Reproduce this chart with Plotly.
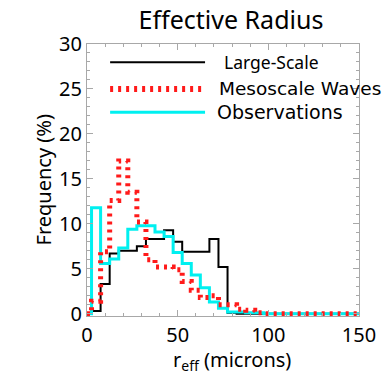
import plotly.graph_objects as go

# Histogram bin centres (microns) and frequencies (%) per bin
r_eff = list(range(0, 155, 5))

large_scale = [0.0, 0.3, 3.3, 6.7, 7.0, 7.0, 7.5, 8.3, 8.3, 9.3, 8.0, 6.9, 6.9, 6.9,
               8.3, 5.2, 0.1] + [0.0] * 14
mesoscale = [0.0, 1.4, 6.9, 12.6, 17.0, 13.5, 10.2, 6.0, 5.2, 5.2, 4.9, 3.6, 2.6, 1.8,
             2.0, 1.0, 1.0, 0.5, 0.4, 0.1] + [0.0] * 11
observations = [0.0, 11.8, 5.6, 6.1, 7.3, 9.4, 9.8, 9.8, 9.1, 8.6, 6.8, 5.6, 4.3, 2.9,
                1.3, 0.6, 0.2, 0.2, 0.1, 0.1] + [0.0] * 11

names = ["Large-Scale", "Mesoscale Waves", "Observations"]
colors = ["black", "#ff1a1a", "#00f0f0"]

x_ticks = [0, 50, 100, 150]
y_ticks = [0, 5, 10, 15, 20, 25, 30]

fig = go.Figure()
fig.add_trace(go.Scatter(x=r_eff, y=large_scale, mode="lines", line_shape="hvh",
                         line=dict(color=colors[0], width=2), name=names[0]))
fig.add_trace(go.Scatter(x=r_eff, y=observations, mode="lines", line_shape="hvh",
                         line=dict(color=colors[2], width=3), name=names[2]))
fig.add_trace(go.Scatter(x=r_eff, y=mesoscale, mode="lines", line_shape="hvh",
                         line=dict(color=colors[1], width=5, dash="3px,5px"), name=names[1]))

# Hand-drawn key in the upper part of the panel
key_rows = [(0.933, colors[0], 2, "solid", names[0], "Noto Sans", 17.5, 0.496),
            (0.835, colors[1], 6, "3px,5px", names[1], "DejaVu Sans", 18.5, 0.478),
            (0.749, colors[2], 3, "solid", names[2], "DejaVu Sans", 19, 0.471)]
for yk, col, w, dash, label, fam, size, xt in key_rows:
    fig.add_shape(type="line", xref="paper", yref="paper", x0=0.085, x1=0.434,
                  y0=yk, y1=yk, line=dict(color=col, width=w, dash=dash))
    fig.add_annotation(xref="paper", yref="paper", x=xt, y=yk, text=label,
                       showarrow=False, xanchor="left", yanchor="middle",
                       font=dict(family=fam, size=size, color="black"))

# Axis titles
fig.add_annotation(xref="paper", yref="paper", x=0.533, y=-0.162,
                   text="r<sub>eff</sub> (microns)", showarrow=False,
                   xanchor="center", yanchor="middle",
                   font=dict(family="Noto Sans", size=20, color="black"))
fig.add_annotation(xref="paper", yref="paper", x=-0.16, y=0.5,
                   text="Frequency (%)", showarrow=False, textangle=-90,
                   xanchor="center", yanchor="middle",
                   font=dict(family="Noto Sans", size=20, color="black"))

axis_common = dict(showgrid=False, zeroline=False, showline=True, linecolor="#a8a8a8",
                   linewidth=1, mirror="ticks", ticks="inside", tickcolor="#a8a8a8",
                   automargin=False,
                   tickfont=dict(family="Noto Sans", size=20, color="black"))

fig.update_xaxes(range=[0, 150], tickvals=x_ticks, ticklen=6, ticklabelstandoff=1,
                 minor=dict(dtick=10, ticks="inside", ticklen=3, tickcolor="#a8a8a8"),
                 **axis_common)
fig.update_yaxes(range=[-0.25, 30], tickvals=y_ticks, ticklen=6,
                 minor=dict(dtick=1, ticks="inside", ticklen=3, tickcolor="#a8a8a8"),
                 **axis_common)

fig.update_layout(
    width=385, height=374,
    margin=dict(l=87, r=26, t=44, b=58),
    paper_bgcolor="white", plot_bgcolor="white",
    showlegend=False,
    title=dict(text="Effective Radius", x=0.6, xanchor="center", y=0.945, yanchor="middle",
               font=dict(family="Noto Sans", size=25, color="black")),
)

fig.write_html("out.html")
